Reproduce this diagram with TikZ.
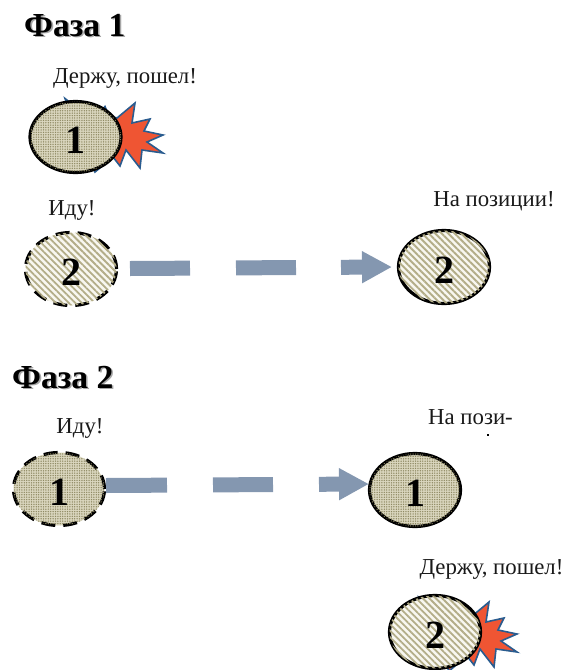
\documentclass[tikz,border=0pt]{standalone}
\usepackage{fontspec}
\setmainfont{Liberation Serif}
\usetikzlibrary{shapes.geometric,arrows.meta,patterns.meta}
\definecolor{dotbase}{HTML}{DAD6BE}
\definecolor{dotink}{HTML}{8E8962}
\definecolor{stripeink}{HTML}{B3AD88}
\definecolor{stripebase}{HTML}{F8F7F0}
\definecolor{burst}{HTML}{EF5533}
\definecolor{burstline}{HTML}{2A5C8F}
\definecolor{flow}{HTML}{8497B0}
\newcommand{\shadowtext}[1]{\rlap{\kern1.6pt\raisebox{-1.6pt}{\textcolor{black!35}{#1}}}#1}
\newcommand{\digitdown}[1]{\raisebox{-3.5pt}[\height][0pt]{#1}}
\newcommand{\burstpath}{(65,98.5)--(72,104)--(100,113)--(105,106.5)--(109,116)--(117,118)--(135,103)--(132,123)--(150,119)--(144,131)--(163,135)--(147,142)--(163,153)--(142,150)--(140,168)--(126,150)--(120,166)--(113,157)--(95,172)--(80,140)--cycle}
\tikzset{
  blob/.style={ellipse,minimum width=91pt,minimum height=71pt,inner sep=0pt,line width=3.2pt,draw=black,
    font=\fontsize{40}{40}\selectfont\bfseries,text=black},
  dotted blob/.style={blob,fill=dotbase,postaction={pattern={Dots[distance=2.4pt,radius=.75pt,xshift=.3pt]},pattern color=dotink}},
  striped blob/.style={blob,fill=stripebase,postaction={pattern={Lines[angle=-45,distance=4.6pt,line width=1.9pt]},pattern color=stripeink}},
  moving/.style={dash pattern=on 14pt off 8pt},
  title/.style={font=\fontsize{33.6}{34}\selectfont\bfseries,inner sep=0pt},
  speech/.style={font=\fontsize{22.8}{23}\selectfont,inner sep=0pt,text=black!90},
  burststar/.style={fill=burst,draw=burstline,line width=1.6pt,line join=miter},
  flowline/.style={draw=flow,line width=15pt,-{Triangle[length=30pt,width=30pt,fill=flow]}},
}
\begin{document}
\begin{tikzpicture}[x=1pt,y=-1pt]
\useasboundingbox (0,0) rectangle (564,670);
% Phase 1
\node[title,anchor=west] (t1) at (24,26) {\shadowtext{Фаза 1}};
\node[speech] (s1) at (125,78) {Держу, пошел!};
\draw[burststar] \burstpath;
\node[dotted blob] (a1) at (75.5,137) {\digitdown{1}};
\node[speech] (s2) at (72,210) {Иду!};
\node[striped blob,moving,minimum height=73pt] (a2) at (71,269) {\digitdown{2}};
\node[speech] (s3) at (494,201) {На позиции!};
\node[striped blob,minimum height=73pt] (b2) at (444,267) {\digitdown{2}};
\coordinate (p1s) at (130,268.5);
\coordinate (p1t) at (392,267);
\draw[flowline,dash pattern=on 60pt off 46pt on 60pt off 45pt on 21pt] (p1s) -- (p1t);
% Phase 2
\node[title,anchor=west] (t2) at (12,378) {\shadowtext{Фаза 2}};
\node[speech] (s4) at (80,428) {Иду!};
\node[dotted blob,moving,minimum height=73pt] (a3) at (59,489) {\digitdown{1}};
\node[speech] (s5) at (470.5,417) {На пози-};
\fill[black] (487.4,433.6) rectangle (489,435.6);
\node[dotted blob,minimum height=73pt] (b3) at (415,490) {\digitdown{1}};
\coordinate (p2s) at (106,485.5);
\coordinate (p2t) at (369,484);
\draw[flowline,dash pattern=on 61pt off 46pt on 60pt off 46pt on 21pt] (p2s) -- (p2t);
\node[speech] (s6) at (491.5,569) {Держу, пошел!};
\draw[burststar,shift={(354,499)}] \burstpath;
\node[striped blob,minimum height=73pt] (b4) at (435,632) {\digitdown{2}};
\end{tikzpicture}
\end{document}
